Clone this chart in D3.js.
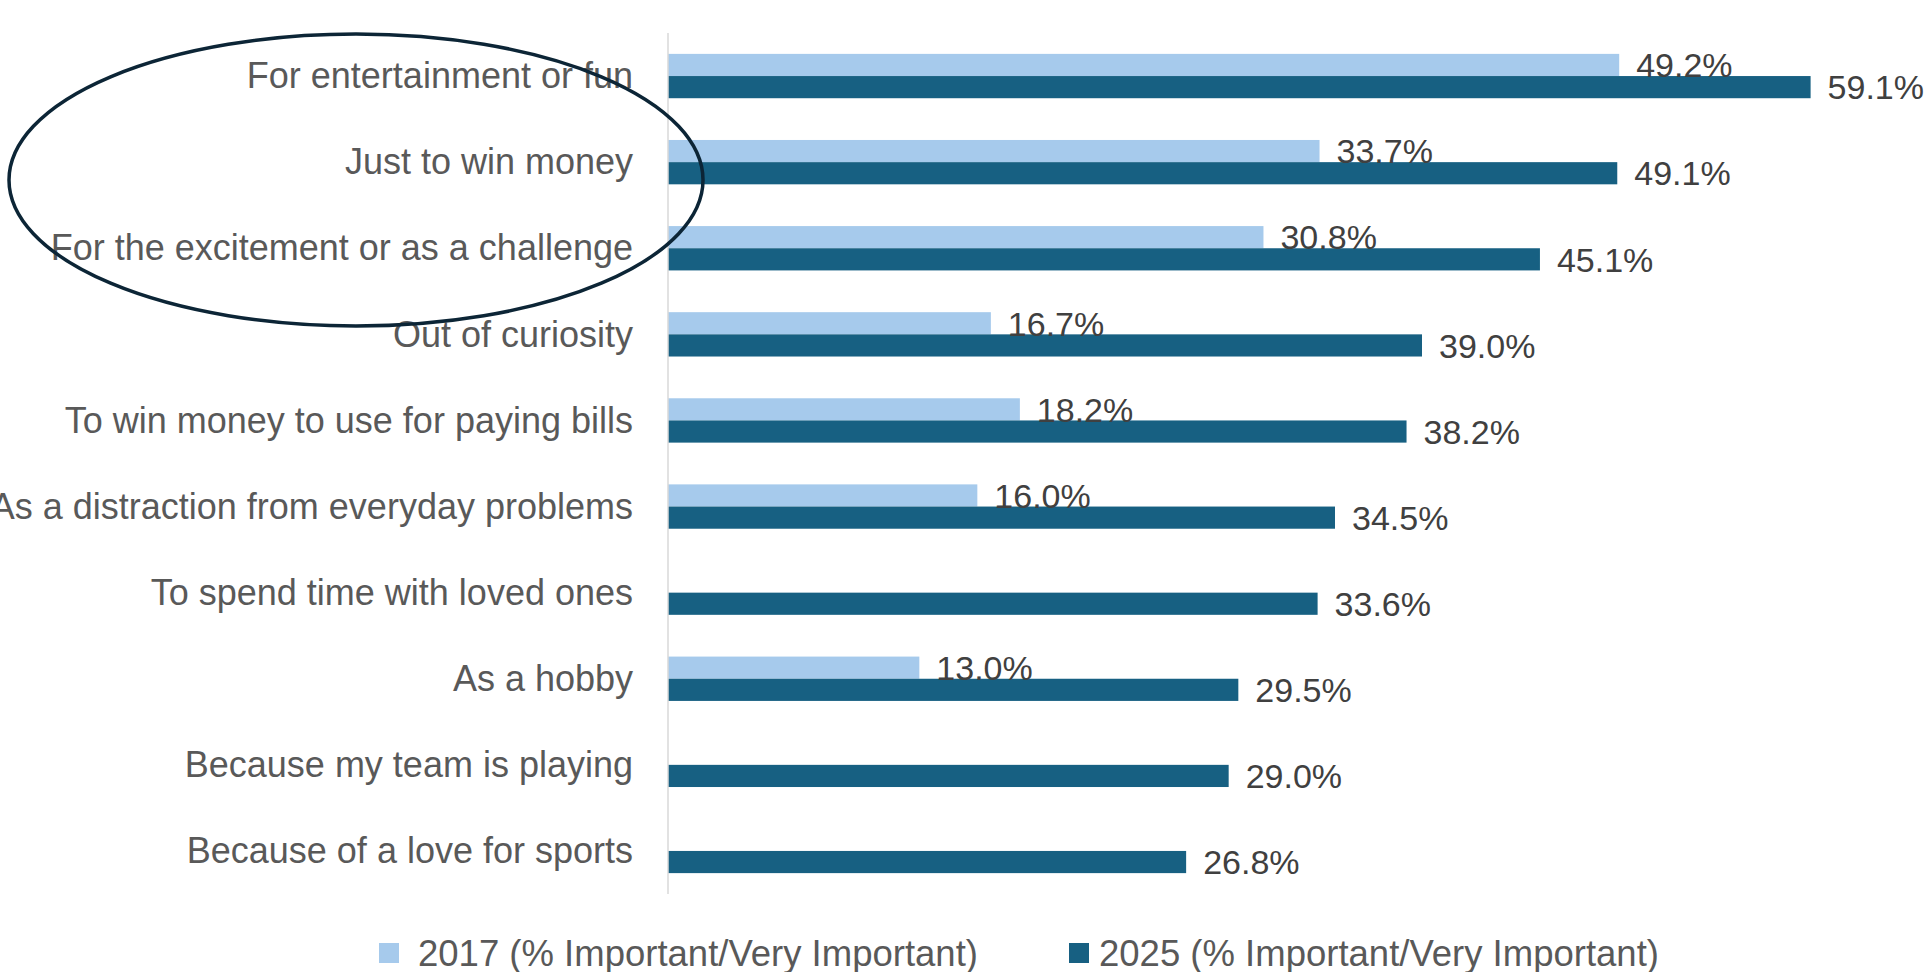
<!DOCTYPE html>
<html>
<head>
<meta charset="utf-8">
<script src="https://cdn.jsdelivr.net/npm/d3@7"></script>
<style>
  body { margin: 0; background: #fff; }
  svg { display: block; font-family: 'Liberation Sans', Arial, sans-serif; }
</style>
</head>
<body>
<script>
const categories = [
  'For entertainment or fun',
  'Just to win money',
  'For the excitement or as a challenge',
  'Out of curiosity',
  'To win money to use for paying bills',
  'As a distraction from everyday problems',
  'To spend time with loved ones',
  'As a hobby',
  'Because my team is playing',
  'Because of a love for sports',
];
const series = ['2017 (% Important/Very Important)', '2025 (% Important/Very Important)'];
const values2017 = [49.2, 33.7, 30.8, 16.7, 18.2, 16.0, null, 13.0, null, null];
const values2025 = [59.1, 49.1, 45.1, 39.0, 38.2, 34.5, 33.6, 29.5, 29.0, 26.8];
const colors = ['#a6caec', '#176082'];

const width = 1929;
const height = 972;

const svg = d3.select('body').append('svg')
  .attr('width', width)
  .attr('height', height);

const x = d3.scaleLinear().domain([0, 60]).range([668, 1828]);
const y = d3.scaleBand().domain(categories).range([33, 894])
  .paddingInner(0.485).paddingOuter(0.2425);
const sub = d3.scaleBand().domain([0, 1]).range([0, y.bandwidth()]);

const rows = categories.map((c, i) => ({ cat: c, vals: [values2017[i], values2025[i]] }));

// bars
const bars = [];
rows.forEach((r) => {
  r.vals.forEach((v, s) => {
    if (v != null) bars.push({ cat: r.cat, s, v });
  });
});

svg.append('g').classed('bars', true)
  .selectAll('rect')
  .data(bars)
  .enter()
  .append('rect')
  .attr('x', x(0))
  .attr('y', (d) => y(d.cat) + sub(d.s))
  .attr('width', (d) => x(d.v) - x(0))
  .attr('height', sub.bandwidth())
  .style('fill', (d) => colors[d.s]);

// axis line
svg.append('line')
  .attr('x1', x(0)).attr('x2', x(0))
  .attr('y1', y.range()[0]).attr('y2', y.range()[1])
  .style('stroke', '#d9d9d9')
  .style('stroke-width', 1.5);

// value labels
svg.append('g').classed('values', true)
  .selectAll('text')
  .data(bars)
  .enter()
  .append('text')
  .attr('x', (d) => x(d.v) + 17)
  .attr('y', (d) => y(d.cat) + sub(d.s) + sub.bandwidth() / 2)
  .attr('dy', '0.36em')
  .style('font-size', '34px')
  .style('fill', '#404040')
  .text((d) => `${d.v.toFixed(1)}%`);

// category labels
svg.append('g').classed('cats', true)
  .selectAll('text')
  .data(categories)
  .enter()
  .append('text')
  .attr('x', x(0) - 35)
  .attr('y', (d) => y(d) + y.bandwidth() / 2)
  .attr('dy', '0.34em')
  .attr('text-anchor', 'end')
  .style('font-size', '36px')
  .style('fill', '#595959')
  .text((d) => d);

// legend
const legendX = [379, 1069];
const legend = svg.append('g').classed('legend', true)
  .selectAll('g')
  .data(series)
  .enter()
  .append('g')
  .attr('transform', (d, i) => `translate(${legendX[i]},953)`);

legend.append('rect')
  .attr('x', 0).attr('y', -10)
  .attr('width', 20).attr('height', 20)
  .style('fill', (d, i) => colors[i]);

legend.append('text')
  .attr('x', (d, i) => (i === 0 ? 39 : 30))
  .attr('dy', '0.36em')
  .style('font-size', '36.5px')
  .style('fill', '#595959')
  .text((d) => d);

// highlight ellipse
svg.append('ellipse')
  .attr('cx', 356)
  .attr('cy', 180)
  .attr('rx', 347)
  .attr('ry', 146)
  .style('fill', 'none')
  .style('stroke', '#0c2536')
  .style('stroke-width', 3.5);
</script>
</body>
</html>
